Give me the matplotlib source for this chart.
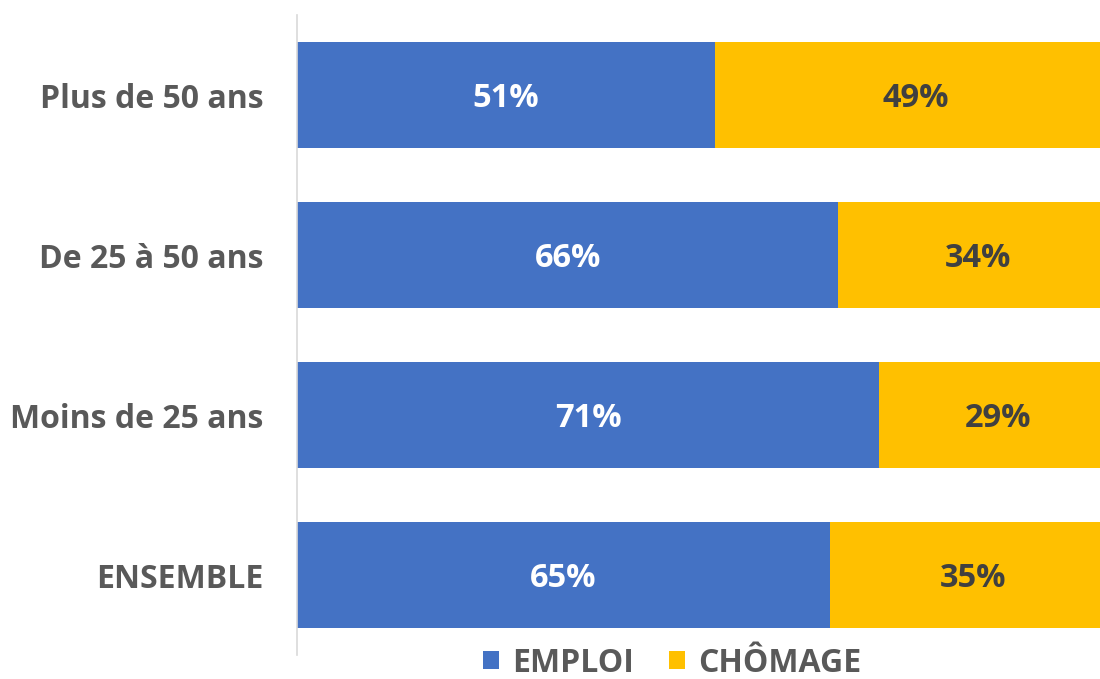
import numpy as np
import matplotlib.pyplot as plt

plt.rcParams['font.family'] = ['Open Sans', 'DejaVu Sans']
plt.rcParams['font.weight'] = 'bold'

categories = ['ENSEMBLE', 'Moins de 25 ans', 'De 25 à 50 ans', 'Plus de 50 ans']
emploi = [65, 71, 66, 51]
chomage = [35, 29, 34, 49]

blue = '#4472C4'
yellow = '#FFC000'

fig = plt.figure(figsize=(11, 6.79), dpi=100)
ax = fig.add_axes([297/1100, 1-655/679, 820/1100, 640/679])

y = np.arange(len(categories))
b1 = ax.barh(y, emploi, height=0.66, color=blue, label='EMPLOI')
b2 = ax.barh(y, chomage, left=emploi, height=0.66, color=yellow, label='CHÔMAGE')

for i in range(len(categories)):
    ax.text(emploi[i]/2, y[i] - 0.02, f'{emploi[i]}%', ha='center', va='center',
            color='white', fontsize=23.5, fontweight='bold')
    ax.text(emploi[i] + chomage[i]/2, y[i] - 0.02, f'{chomage[i]}%', ha='center', va='center',
            color='#404040', fontsize=23.5, fontweight='bold')

ax.set_xlim(0, 100)
ax.set_ylim(-0.5, 3.5)
ax.set_yticks(y)
ax.set_yticklabels(categories, fontsize=23, fontweight='bold', color='#595959')
ax.tick_params(axis='y', length=0, pad=24)
ax.set_xticks([])
for s in ['top', 'right', 'bottom']:
    ax.spines[s].set_visible(False)
ax.spines['left'].set_color('#D9D9D9')
ax.spines['left'].set_linewidth(1.2)

fig.legend(handles=[b1, b2], loc='center', bbox_to_anchor=(672/1100, 1-663/679),
           ncol=2, frameon=False, handlelength=0.5, handleheight=0.5,
           handletextpad=0.4, columnspacing=1.1, labelcolor='#595959',
           borderpad=0.1, prop={'weight': 'bold', 'size': 23})

fig.savefig('out.png', dpi=100)
